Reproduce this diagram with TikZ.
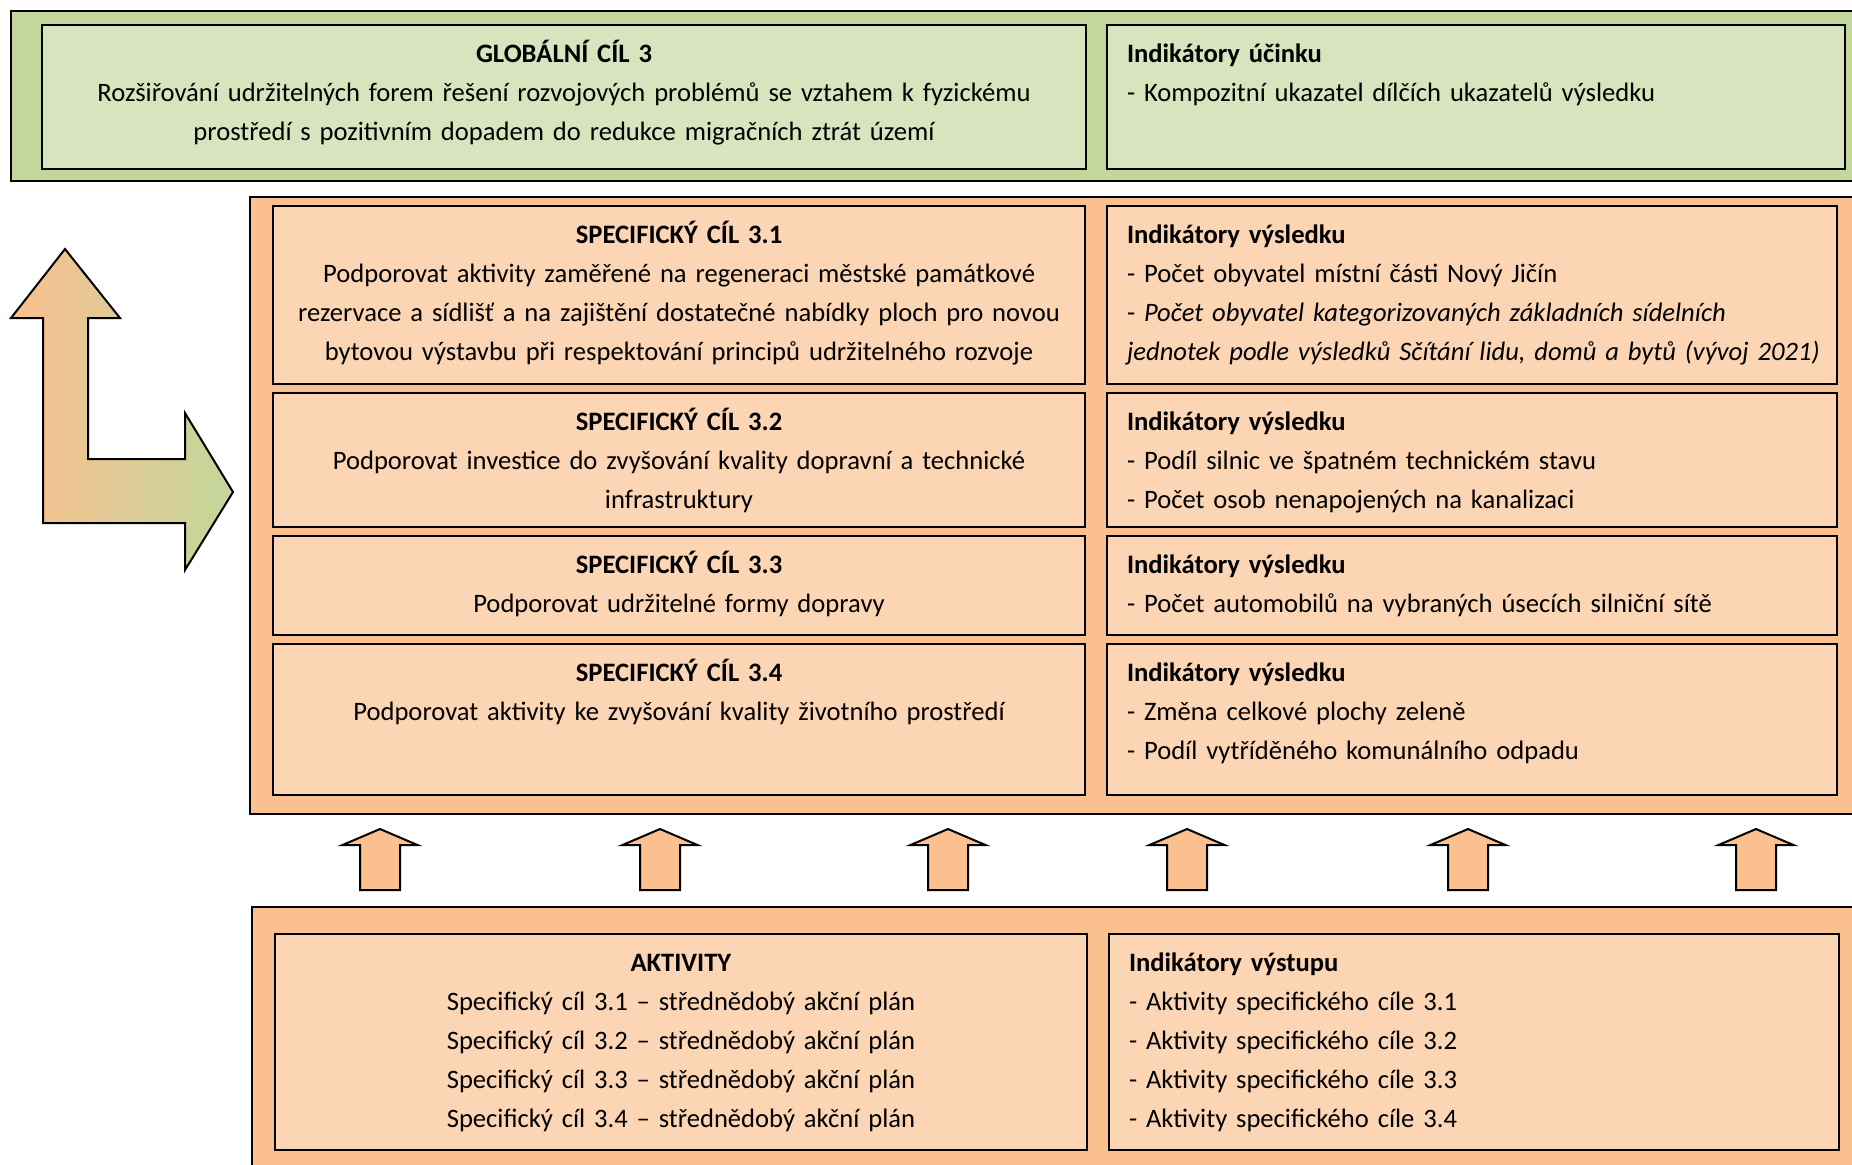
\documentclass[tikz,border=0pt]{standalone}
\usepackage{fontspec}
\setmainfont{Carlito}[WordSpace=0.9]
\usetikzlibrary{positioning}
\definecolor{figZelena}{RGB}{195,214,155}
\definecolor{figZelenaSvetla}{RGB}{215,228,189}
\definecolor{figOranzova}{RGB}{250,192,144}
\definecolor{figOranzovaSvetla}{RGB}{252,213,181}
\tikzset{
  blok/.style={
    rectangle, draw=black, line width=1pt, fill=figOranzovaSvetla,
    text width=394pt, align=center, inner xsep=6pt, inner ysep=0pt,
    text height=18.5pt, font=\fontsize{13.3}{19.5}\selectfont
  },
  blokz/.style={blok, fill=figZelenaSvetla, text width=510pt},
  ukaz/.style={
    rectangle, draw=black, line width=1pt, fill=figOranzovaSvetla,
    text width=345pt, align=left, inner xsep=10pt, inner ysep=0pt,
    text height=18.5pt, font=\fontsize{13.3}{19.5}\selectfont
  },
  ukazz/.style={ukaz, fill=figZelenaSvetla, text width=349pt},
  ramec/.style={draw=black, line width=1pt},
  sipka/.style={draw=black, line width=1pt, fill=figOranzova, line join=miter}
}

\begin{document}
\begin{tikzpicture}[x=0.5pt, y=-0.5pt, node distance=3.5pt and 10pt]
  \useasboundingbox (0,0) rectangle (1852,1164);
  \clip (0,0) rectangle (1852,1164);
  % vnejsi ramce
  \draw[ramec, fill=figZelena] (11,11) rectangle (1880,181);
  \draw[ramec, fill=figOranzova] (250,197) rectangle (1880,814);
  \draw[ramec, fill=figOranzova] (252,907) rectangle (1880,1190);

  % globalni cil
  \node[blokz, anchor=north west, text depth=53.5pt] (glob) at (41,24) {\textbf{GLOBÁLNÍ CÍL 3}\\Rozšiřování udržitelných forem řešení rozvojových problémů se vztahem k fyzickému\\prostředí s pozitivním dopadem do redukce migračních ztrát území};
  \node[ukazz, right=9.5pt of glob, text depth=53.5pt] (globInd) {\textbf{Indikátory účinku}\\- Kompozitní ukazatel dílčích ukazatelů výsledku};

  % specificke cile
  \node[blok, anchor=north west, text depth=70.5pt] (sc1) at (272,205) {\textbf{SPECIFICKÝ CÍL 3.1}\\Podporovat aktivity zaměřené na regeneraci městské památkové\\rezervace a sídlišť a na zajištění dostatečné nabídky ploch pro novou\\bytovou výstavbu při respektování principů udržitelného rozvoje};
  \node[ukaz, right=of sc1, text depth=70.5pt] (ind1) {\textbf{Indikátory výsledku}\\- Počet obyvatel místní části Nový Jičín\\- \textit{Počet obyvatel kategorizovaných základních sídelních}\\\mbox{\textit{jednotek podle výsledků Sčítání lidu, domů a bytů (vývoj 2021)}}};
  \node[blok, below=of sc1, text depth=48.5pt] (sc2) {\textbf{SPECIFICKÝ CÍL 3.2}\\Podporovat investice do zvyšování kvality dopravní a technické\\infrastruktury};
  \node[ukaz, right=of sc2, text depth=48.5pt] (ind2) {\textbf{Indikátory výsledku}\\- Podíl silnic ve špatném technickém stavu\\- Počet osob nenapojených na kanalizaci};
  \node[blok, below=of sc2, text depth=31pt] (sc3) {\textbf{SPECIFICKÝ CÍL 3.3}\\Podporovat udržitelné formy dopravy};
  \node[ukaz, right=of sc3, text depth=31pt] (ind3) {\textbf{Indikátory výsledku}\\- Počet automobilů na vybraných úsecích silniční sítě};
  \node[blok, below=of sc3, text depth=57pt] (sc4) {\textbf{SPECIFICKÝ CÍL 3.4}\\Podporovat aktivity ke zvyšování kvality životního prostředí};
  \node[ukaz, right=of sc4, text depth=57pt] (ind4) {\textbf{Indikátory výsledku}\\- Změna celkové plochy zeleně\\- Podíl vytříděného komunálního odpadu};

  % aktivity
  \node[blok, anchor=north west, text depth=89.5pt] (akt) at (274,933) {\textbf{AKTIVITY}\\Specifický cíl 3.1 – střednědobý akční plán\\Specifický cíl 3.2 – střednědobý akční plán\\Specifický cíl 3.3 – střednědobý akční plán\\Specifický cíl 3.4 – střednědobý akční plán};
  \node[ukaz, right=of akt, text depth=89.5pt] (aktInd) {\textbf{Indikátory výstupu}\\- Aktivity specifického cíle 3.1\\- Aktivity specifického cíle 3.2\\- Aktivity specifického cíle 3.3\\- Aktivity specifického cíle 3.4};

  % sipky
  \foreach \x in {380,660,948,1187,1468,1756}
    \draw[sipka] (\x,829) -- ++(37.5,16) -- ++(-17.5,0) -- ++(0,45) -- ++(-40,0) -- ++(0,-45) -- ++(-17.5,0) -- cycle;
  \draw[sipka, left color=figOranzova, right color=figZelena] (65,249) -- (120,318) -- (88,318) -- (88,459) -- (185,459) -- (185,413) -- (233,492) -- (185,570) -- (185,523) -- (43,523) -- (43,318) -- (11,318) -- cycle;
\end{tikzpicture}
\end{document}
